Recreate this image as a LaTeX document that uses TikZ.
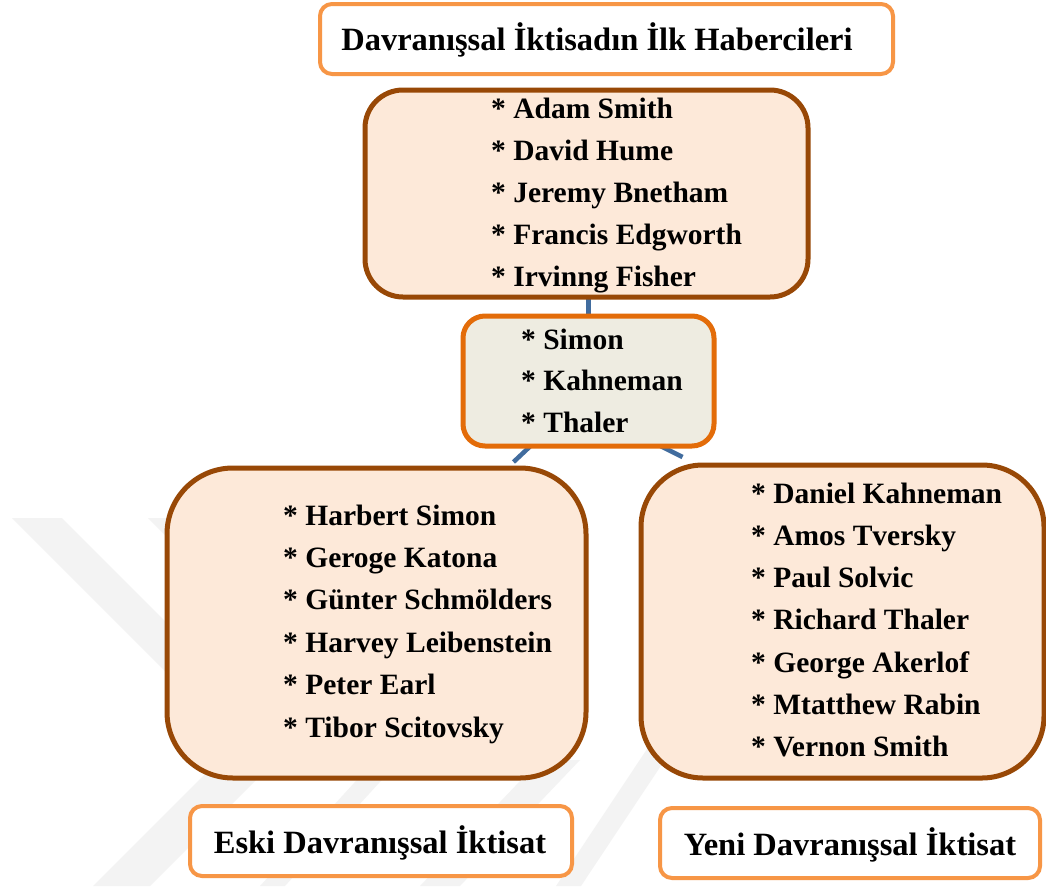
\documentclass[tikz,border=0pt]{standalone}
\usepackage{fontspec}
\setmainfont{Liberation Serif}
\usetikzlibrary{calc}
\definecolor{lorange}{RGB}{247,150,70}
\definecolor{dorange}{RGB}{227,108,9}
\definecolor{brownc}{RGB}{152,72,6}
\definecolor{peach}{RGB}{253,233,217}
\definecolor{beige}{RGB}{238,236,225}
\definecolor{linkc}{RGB}{65,108,158}
\definecolor{wmark}{RGB}{243,243,243}
\pgfdeclarelayer{wm}
\pgfdeclarelayer{links}
\pgfsetlayers{wm,links,main}
\begin{document}
\begin{tikzpicture}[x=1pt,y=-1pt,
  boxbase/.style={rounded corners=#1, inner sep=0pt, outer sep=0pt, anchor=north west},
  labelbox/.style={boxbase=12pt, draw=lorange, line width=4pt, fill=white},
  listbox/.style={boxbase=#1, draw=brownc, line width=5pt, fill=peach},
  midbox/.style={boxbase=22pt, draw=dorange, line width=5pt, fill=beige},
  txt/.style={font=\fontsize{29.5}{35}\selectfont\bfseries, inner sep=0pt, anchor=base west},
  ctxt/.style={font=\fontsize{32.5}{38}\selectfont\bfseries, inner sep=0pt, anchor=base},
  link/.style={draw=linkc, line width=4.5pt},
  wmk/.style={fill=wmark, draw=none}]
\useasboundingbox (0,0) rectangle (1046,886);

% white page and faint watermark
\begin{pgfonlayer}{wm}
\fill[white] (0,0) rectangle (1046,886);
\fill[wmk] (12,518) -- (62,518) -- (262,718) -- (212,718) -- cycle;
\fill[wmk] (148,518) -- (198,518) -- (300,620) -- (250,620) -- cycle;
\fill[wmk] (93,886) -- (150,886) -- (300,736) -- (243,736) -- cycle;
\fill[wmk] (556,886) -- (581,886) -- (678,740) -- (653,740) -- cycle;
\fill[wmk] (260,886) -- (285,886) -- (400,760) -- (375,760) -- cycle;
\fill[wmk] (420,886) -- (460,886) -- (580,760) -- (540,760) -- cycle;
\end{pgfonlayer}

% boxes
\node[labelbox, minimum width=573pt, minimum height=70pt] (title) at (320,4) {};
\node[ctxt] (titletxt) at (597,50) {Davranışsal İktisadın İlk Habercileri};

\node[listbox=38pt, minimum width=443pt, minimum height=207pt] (top) at (365,90) {};
\foreach \t [count=\i] in {Adam Smith, David Hume, Jeremy Bnetham, Francis Edgworth, Irvinng Fisher}
  \node[txt] (toptxt\i) at (491,{118+42*(\i-1)}) {* \t};

\node[midbox, minimum width=251pt, minimum height=130pt] (mid) at (463,316) {};
\foreach \t [count=\i] in {Simon, Kahneman, Thaler}
  \node[txt] (midtxt\i) at (521,{349+41.5*(\i-1)}) {* \t};

\node[listbox=66pt, minimum width=419pt, minimum height=310pt] (left) at (167,468) {};
\foreach \t [count=\i] in {Harbert Simon, Geroge Katona, Günter Schmölders, Harvey Leibenstein, Peter Earl, Tibor Scitovsky}
  \node[txt] (lefttxt\i) at (283,{525+42.4*(\i-1)}) {* \t};

\node[listbox=62pt, minimum width=403pt, minimum height=313pt] (right) at (641,465) {};
\foreach \t [count=\i] in {Daniel Kahneman, Amos Tversky, Paul Solvic, Richard Thaler, George Akerlof, Mtatthew Rabin, Vernon Smith}
  \node[txt] (righttxt\i) at (751,{503+42.3*(\i-1)}) {* \t};

\node[labelbox, minimum width=382pt, minimum height=70pt] (eski) at (190,806) {};
\node[ctxt] (eskitxt) at (380,853) {Eski Davranışsal İktisat};

\node[labelbox, minimum width=380pt, minimum height=70pt] (yeni) at (660,808) {};
\node[ctxt] (yenitxt) at (850,855) {Yeni Davranışsal İktisat};

% connectors
\begin{pgfonlayer}{links}
\draw[link] (mid.north) -- (mid.north |- top.south);
\draw[link] ($(mid.south)+(-58,0)$) -- ($(left.north)+(137,-6)$);
\draw[link] ($(mid.south)+(72,0)$) -- ($(right.north)+(-160,-8)$);
\end{pgfonlayer}
\end{tikzpicture}
\end{document}
